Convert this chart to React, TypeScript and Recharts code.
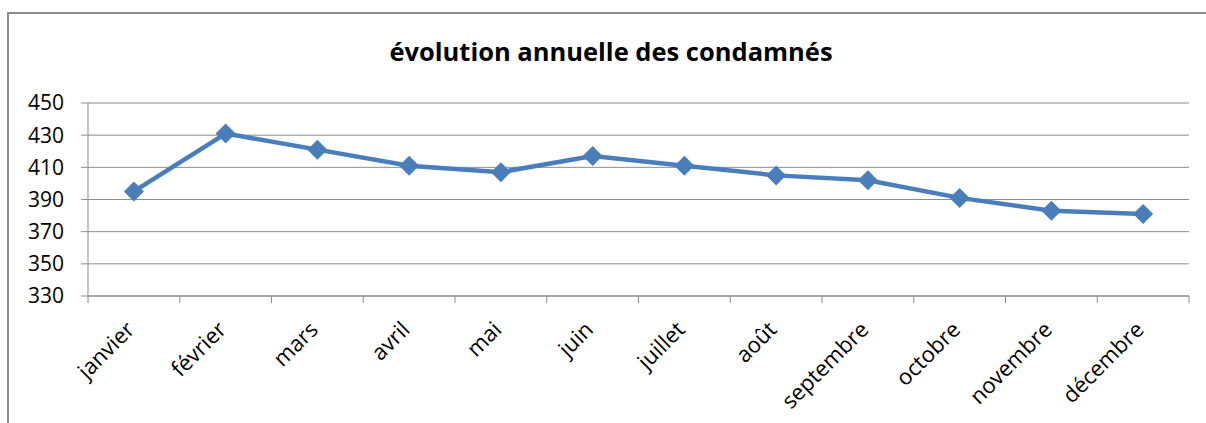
import { CartesianGrid, Line, LineChart, XAxis, YAxis } from "recharts";

const months = [
  "janvier",
  "février",
  "mars",
  "avril",
  "mai",
  "juin",
  "juillet",
  "août",
  "septembre",
  "octobre",
  "novembre",
  "décembre",
];
const condamnes = [395, 431, 421, 411, 407, 417, 411, 405, 402, 391, 383, 381];
const yTicks = [330, 350, 370, 390, 410, 430, 450];

const chartData = months.map((mois, i) => ({ mois, condamnes: condamnes[i] }));

const PLOT_LEFT = 88;
const PLOT_RIGHT = 1189;
const BAND = (PLOT_RIGHT - PLOT_LEFT) / months.length;
const FONT = "'Open Sans', sans-serif";

function Diamond(props: any) {
  const { cx, cy } = props;
  if (cx == null || cy == null) return null;
  const r = 10;
  return (
    <polygon
      points={`${cx},${cy - r} ${cx + r},${cy} ${cx},${cy + r} ${cx - r},${cy}`}
      fill="#4a7ebb"
    />
  );
}

function MonthTick(props: any) {
  const { x, y, payload, index } = props;
  const last = index === months.length - 1;
  return (
    <g>
      <line x1={x - BAND / 2} y1={y - 8} x2={x - BAND / 2} y2={y - 1} stroke="#8c8c8c" />
      {last && (
        <line x1={x + BAND / 2} y1={y - 8} x2={x + BAND / 2} y2={y - 1} stroke="#8c8c8c" />
      )}
      <text
        x={0}
        y={0}
        transform={`translate(${x + 2},${y + 27}) rotate(-45)`}
        textAnchor="end"
        fill="#000"
        fontSize={22}
        fontFamily={FONT}
      >
        {payload.value}
      </text>
    </g>
  );
}

export default function App() {
  return (
    <div
      style={{
        position: "absolute",
        top: 0,
        left: 0,
        width: 1206,
        height: 423,
        background: "#fff",
        overflow: "hidden",
      }}
    >
      <div
        style={{
          position: "absolute",
          left: 7,
          top: 12,
          width: 1220,
          height: 440,
          border: "2px solid #8c8c8c",
          boxSizing: "border-box",
        }}
      />
      <div
        style={{
          position: "absolute",
          top: 34,
          left: 0,
          width: 1222,
          textAlign: "center",
          fontFamily: FONT,
          fontWeight: 700,
          fontSize: 25.5,
          color: "#000",
        }}
      >
        évolution annuelle des condamnés
      </div>
      <div style={{ position: "absolute", top: 0, left: 0 }}>
        <LineChart
          width={1206}
          height={423}
          data={chartData}
          margin={{ top: 103, right: 1206 - PLOT_RIGHT, left: 0, bottom: 0 }}
        >
          <CartesianGrid vertical={false} stroke="#8c8c8c" />
          <XAxis
            dataKey="mois"
            height={127}
            padding={{ left: BAND / 2, right: BAND / 2 }}
            axisLine={{ stroke: "#8c8c8c" }}
            tickLine={false}
            interval={0}
            tick={<MonthTick />}
          />
          <YAxis
            width={PLOT_LEFT}
            domain={[330, 450]}
            ticks={yTicks}
            interval={0}
            axisLine={{ stroke: "#8c8c8c" }}
            tickLine={{ stroke: "#8c8c8c" }}
            tickSize={7}
            tickMargin={17}
            tick={{ fill: "#000", fontSize: 21, fontFamily: FONT }}
          />
          <Line
            type="linear"
            dataKey="condamnes"
            stroke="#4a7ebb"
            strokeWidth={4.5}
            dot={<Diamond />}
            activeDot={false}
            isAnimationActive={false}
          />
        </LineChart>
      </div>
    </div>
  );
}
